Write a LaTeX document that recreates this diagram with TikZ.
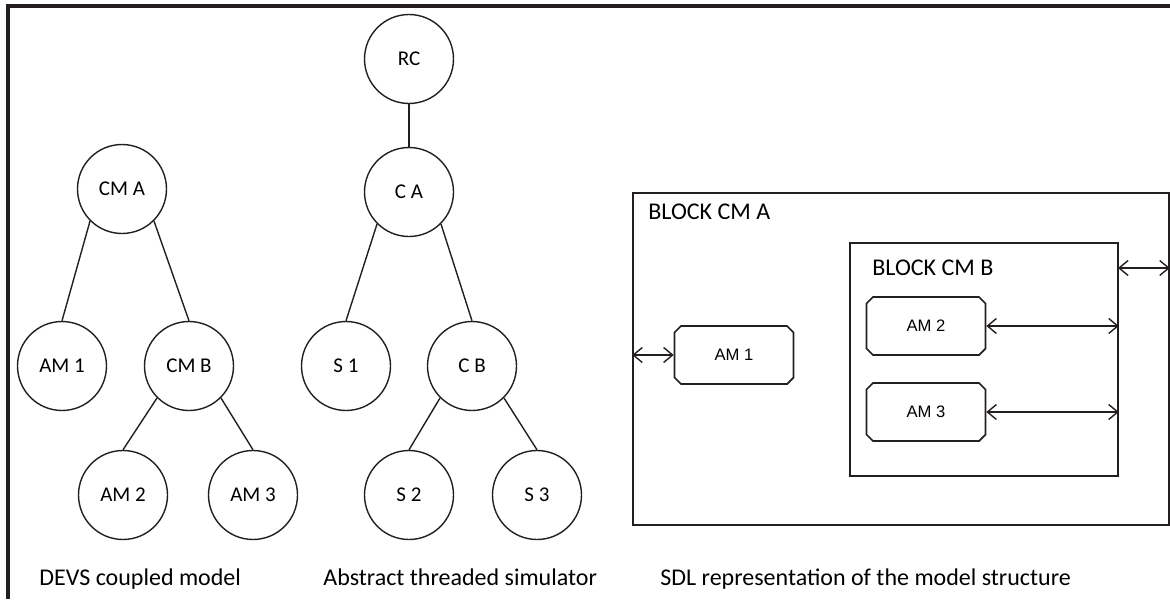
\documentclass[tikz,border=0pt]{standalone}
\usepackage{fontspec}
\setmainfont{Carlito}
\newfontfamily\arialfont{Liberation Sans}
\usetikzlibrary{shapes.misc,arrows.meta}

\definecolor{inkblack}{HTML}{231F20}

\tikzset{
  devs/.style={draw=inkblack, circle, line width=0.7pt, minimum size=44.5pt, inner sep=0pt, font=\fontsize{10.5}{12}\selectfont},
  sdlblock/.style={draw=inkblack, line width=0.8pt, inner sep=0pt},
  am/.style={draw=inkblack, chamfered rectangle, chamfered rectangle xsep=1.6pt, chamfered rectangle ysep=1.6pt, minimum width=59.5pt, minimum height=29pt, inner sep=0pt, line width=0.8pt, font=\arialfont\fontsize{8.3}{10}\selectfont},
  channel/.style={{Straight Barb[length=4.5pt,width=7.5pt]}-{Straight Barb[length=4.5pt,width=7.5pt]}, draw=inkblack, line width=0.7pt},
  link/.style={draw=inkblack, line width=0.7pt},
  caption/.style={anchor=base west, inner sep=0pt, font=\fontsize{12}{14}\selectfont},
  frame/.style={draw=inkblack, line width=1.6pt}
}

\begin{document}
\begin{tikzpicture}[x=0.5pt, y=-0.5pt]
\useasboundingbox (0,0) rectangle (1170,599);
\draw[frame] (8,599) -- (8,6) -- (1170,6);

\node[devs] (cma) at (122,189) {CM A};
\node[devs] (am1) at (62,366) {AM 1};
\node[devs] (cmb) at (189,366) {CM B};
\node[devs] (am2) at (123,495) {AM 2};
\node[devs] (am3) at (253,495) {AM 3};
\draw[link] (cma.south west) -- (am1.north);
\draw[link] (cma.south east) -- (cmb.north);
\draw[link] (cmb.south west) -- (am2.north);
\draw[link] (cmb.south east) -- (am3.north);

\node[devs] (rc) at (409,59) {RC};
\node[devs] (ca) at (409,192) {C A};
\node[devs] (s1) at (346,366) {S 1};
\node[devs] (cb) at (472,366) {C B};
\node[devs] (s2) at (409,495) {S 2};
\node[devs] (s3) at (537,495) {S 3};
\draw[link] (rc.south) -- (ca.north);
\draw[link] (ca.south west) -- (s1.north);
\draw[link] (ca.south east) -- (cb.north);
\draw[link] (cb.south west) -- (s2.north);
\draw[link] (cb.south east) -- (s3.north);

\node[sdlblock, minimum width=268pt, minimum height=166pt] (blocka) at (901,359) {};
\node[caption] (labela) at (648,219) {BLOCK CM A};
\node[sdlblock, minimum width=134pt, minimum height=116.5pt] (blockb) at (984,359.5) {};
\node[caption] (labelb) at (872,275) {BLOCK CM B};
\node[am] (sam1) at (734,355) {AM 1};
\node[am] (sam2) at (926,326) {AM 2};
\node[am] (sam3) at (926,412) {AM 3};
\coordinate (portb) at (1118,268);
\draw[channel] (sam1.west) -- (sam1.west -| blocka.west);
\draw[channel] (sam2.east) -- (sam2.east -| blockb.east);
\draw[channel] (sam3.east) -- (sam3.east -| blockb.east);
\draw[channel] (portb) -- (portb -| blocka.east);

\node[caption] (capdevs) at (39,585) {DEVS coupled model};
\node[caption] (capsim) at (323,585) {Abstract threaded simulator};
\node[caption] (capsdl) at (660,585) {SDL representation of the model structure};
\end{tikzpicture}
\end{document}
